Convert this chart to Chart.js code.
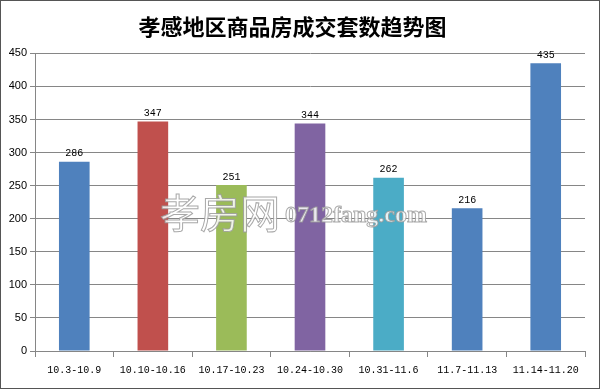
<!DOCTYPE html>
<html>
<head>
<meta charset="utf-8">
<script src="https://cdn.jsdelivr.net/npm/chart.js@4/dist/chart.umd.min.js"></script>
<style>
html,body{margin:0;padding:0;background:#fff;}
#wrap{width:600px;height:389px;position:relative;}
</style>
</head>
<body>
<div id="wrap"><canvas id="c" width="600" height="389"></canvas></div>
<script>
const titleText = "孝感地区商品房成交套数趋势图";
const categories = ["10.3-10.9","10.10-10.16","10.17-10.23","10.24-10.30","10.31-11.6","11.7-11.13","11.14-11.20"];
const values = [286, 347, 251, 344, 262, 216, 435];
const barColors = ["#4F81BD","#C0504D","#9BBB59","#8064A2","#4BACC6","#4F81BD","#4F81BD"];
const yTicks = [0,50,100,150,200,250,300,350,400,450];

const bgBorder = {
  id:'bgBorder',
  beforeDraw(chart){
    const ctx = chart.ctx;
    ctx.save();
    ctx.fillStyle = '#fff';
    ctx.fillRect(0,0,chart.width,chart.height);
    ctx.restore();
  },
  afterDraw(chart){
    const ctx = chart.ctx;
    ctx.save();
    ctx.strokeStyle = '#555';
    ctx.lineWidth = 1;
    ctx.strokeRect(0.5,0.5,chart.width-1,chart.height-1);
    ctx.restore();
  }
};

const valueLabels = {
  id:'valueLabels',
  afterDatasetsDraw(chart){
    const ctx = chart.ctx;
    const meta = chart.getDatasetMeta(0);
    ctx.save();
    ctx.font = '10px "Liberation Mono", "DejaVu Sans Mono", monospace';
    ctx.fillStyle = '#000';
    ctx.textAlign = 'center';
    ctx.textBaseline = 'bottom';
    meta.data.forEach((bar,i)=>{
      ctx.fillText(String(chart.data.datasets[0].data[i]), bar.x, bar.y - 3);
    });
    ctx.restore();
  }
};

const watermark = {
  id:'watermark',
  afterDatasetsDraw(chart){
    const ctx = chart.ctx;
    ctx.save();
    ctx.globalAlpha = 0.85;
    ctx.lineWidth = 1;
    ctx.strokeStyle = '#9a9a9a';
    ctx.fillStyle = '#ffffff';
    ctx.textBaseline = 'middle';
    ctx.textAlign = 'left';
    ctx.font = '40px "Noto Sans CJK SC", sans-serif';
    ctx.fillText('孝房网', 160, 213);
    ctx.strokeText('孝房网', 160, 213);
    ctx.font = 'bold 24px "Liberation Serif", serif';
    ctx.fillText('0712fang.com', 285, 216);
    ctx.strokeText('0712fang.com', 285, 216);
    ctx.restore();
  }
};

new Chart(document.getElementById('c'), {
  type:'bar',
  data:{
    labels: categories,
    datasets:[{
      data: values,
      backgroundColor: barColors,
      borderWidth: 0,
      barPercentage: 0.39,
      categoryPercentage: 1.0
    }]
  },
  options:{
    responsive:false,
    animation:false,
    devicePixelRatio:1,
    layout:{padding:{left:0,right:15,top:0,bottom:0}},
    plugins:{
      legend:{display:false},
      tooltip:{enabled:false},
      title:{
        display:true,
        text:titleText,
        color:'#000',
        font:{family:'"Noto Sans CJK SC", sans-serif', size:22, weight:'bold', lineHeight:1.2},
        padding:{top:13,bottom:14}
      }
    },
    scales:{
      x:{
        grid:{display:true, drawOnChartArea:false, drawTicks:true, tickLength:6, color:'#868686', offset:true},
        border:{display:true, color:'#868686', width:1},
        ticks:{color:'#000', font:{family:'"Liberation Mono", "DejaVu Sans Mono", monospace', size:10}, padding:7, maxRotation:0, autoSkip:false},
        afterFit(s){ s.height = 38; }
      },
      y:{
        min:0, max:450,
        afterBuildTicks(s){ s.ticks = yTicks.map(v=>({value:v})); },
        grid:{color:'#868686', lineWidth:1, drawTicks:true, tickLength:5},
        border:{display:true, color:'#868686', width:1},
        ticks:{color:'#000', font:{family:'"Liberation Sans", Arial, sans-serif', size:11}, padding:3},
        afterFit(s){ s.width = 35; }
      }
    }
  },
  plugins:[bgBorder, valueLabels, watermark]
});
</script>
</body>
</html>
